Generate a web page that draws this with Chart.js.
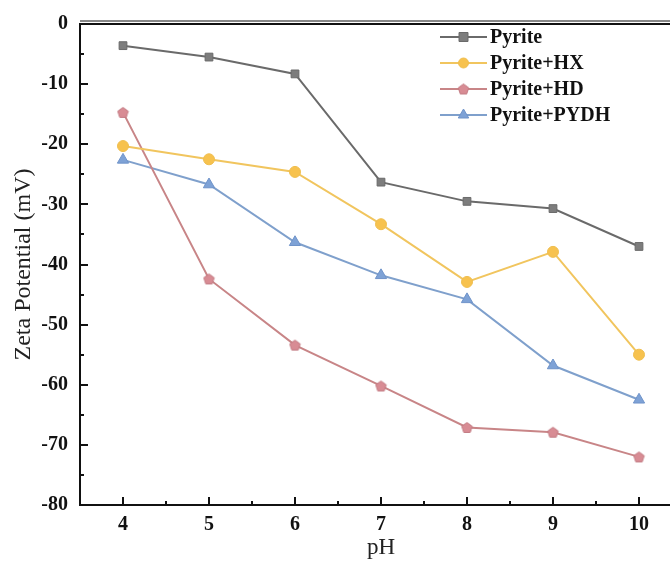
<!DOCTYPE html>
<html>
<head>
<meta charset="utf-8">
<script src="https://cdn.jsdelivr.net/npm/chart.js@4"></script>
<style>
html,body{margin:0;padding:0;background:#fff;overflow:hidden;}
#wrap{width:690px;height:562px;position:relative;}
</style>
</head>
<body>
<div id="wrap"><canvas id="c"></canvas></div>
<script>
// ---- data ----
const phValues = [4, 5, 6, 7, 8, 9, 10];
const seriesNames = ['Pyrite', 'Pyrite+HX', 'Pyrite+HD', 'Pyrite+PYDH'];
const pyrite   = [-3.6, -5.5, -8.3, -26.3, -29.5, -30.7, -37.0];
const pyriteHX = [-20.3, -22.5, -24.6, -33.3, -42.9, -37.9, -55.0];
const pyriteHD = [-14.7, -42.4, -53.4, -60.2, -67.1, -67.9, -72.0];
const pyritePYDH = [-22.6, -26.7, -36.3, -41.8, -45.8, -56.8, -62.5];
const xTicks = [4, 5, 6, 7, 8, 9, 10];
const yTicks = [0, -10, -20, -30, -40, -50, -60, -70, -80];

const SERIF = '"Liberation Serif", "Times New Roman", serif';

function pentagon(fill, stroke, size) {
  const c = document.createElement('canvas');
  c.width = size; c.height = size;
  const g = c.getContext('2d');
  const r = size / 2 - 1, cx = size / 2, cy = size / 2 + 0.5;
  g.beginPath();
  for (let i = 0; i < 5; i++) {
    const a = -Math.PI / 2 + i * 2 * Math.PI / 5;
    const px = cx + r * Math.cos(a), py = cy + r * Math.sin(a);
    if (i === 0) g.moveTo(px, py); else g.lineTo(px, py);
  }
  g.closePath();
  g.fillStyle = fill; g.fill();
  g.strokeStyle = stroke; g.lineWidth = 1; g.stroke();
  return c;
}
const pentImg = pentagon('#d88c94', '#c27a82', 13);

const pts = arr => phValues.map((x, i) => ({x: x, y: arr[i]}));

const datasets = [
  {label: seriesNames[0], data: pts(pyrite), borderColor: '#6a6a6a', backgroundColor: '#7d7d7d',
   pointStyle: 'rect', pointRadius: 5.5, pointBorderColor: '#6a6a6a', pointBorderWidth: 1},
  {label: seriesNames[1], data: pts(pyriteHX), borderColor: '#f1c55e', backgroundColor: '#f7c24e',
   pointStyle: 'circle', pointRadius: 5.5, pointBorderColor: '#efbe4f', pointBorderWidth: 1},
  {label: seriesNames[2], data: pts(pyriteHD), borderColor: '#c88587', backgroundColor: '#d88c94',
   pointStyle: pentImg, pointRadius: 6, pointBorderColor: '#c27a82', pointBorderWidth: 1},
  {label: seriesNames[3], data: pts(pyritePYDH), borderColor: '#7fa0cc', backgroundColor: '#7ea2d6',
   pointStyle: 'triangle', pointRadius: 6.5, pointBorderColor: '#6f93c9', pointBorderWidth: 1}
];
datasets.forEach(d => { d.borderWidth = 2; d.tension = 0; d.showLine = true; d.fill = false; });

const framePlugin = {
  id: 'frame',
  afterDraw(chart) {
    const {ctx, chartArea: a, scales} = chart;
    ctx.save();
    ctx.strokeStyle = '#111';
    ctx.lineWidth = 2;
    ctx.beginPath();
    ctx.moveTo(a.left, a.bottom); ctx.lineTo(a.left, a.top); ctx.lineTo(a.right, a.top);
    ctx.lineTo(a.right, a.bottom); ctx.closePath(); ctx.stroke();
    ctx.lineWidth = 1;
    ctx.beginPath(); ctx.moveTo(a.left, a.top - 3); ctx.lineTo(a.right, a.top - 3); ctx.stroke();
    // inward ticks
    ctx.lineWidth = 2;
    const xs = scales.x, ys = scales.y;
    xTicks.forEach(v => {
      const px = Math.round(xs.getPixelForValue(v));
      ctx.beginPath(); ctx.moveTo(px, a.bottom); ctx.lineTo(px, a.bottom - 8); ctx.stroke();
      const pm = Math.round(xs.getPixelForValue(v + 0.5));
      if (v + 0.5 < xs.max) { ctx.beginPath(); ctx.moveTo(pm, a.bottom); ctx.lineTo(pm, a.bottom - 4); ctx.stroke(); }
    });
    yTicks.forEach(v => {
      const py = Math.round(ys.getPixelForValue(v));
      ctx.beginPath(); ctx.moveTo(a.left, py); ctx.lineTo(a.left + 8, py); ctx.stroke();
      if (v - 5 > ys.min - 0.01) {
        const pm = Math.round(ys.getPixelForValue(v - 5));
        ctx.beginPath(); ctx.moveTo(a.left, pm); ctx.lineTo(a.left + 4, pm); ctx.stroke();
      }
    });
    // legend
    const lx0 = 440, lx1 = 487, tx = 490;
    const rows = [37, 63, 89, 115];
    chart.data.datasets.forEach((d, i) => {
      const y = rows[i];
      const cx = (lx0 + lx1) / 2;
      ctx.strokeStyle = d.borderColor; ctx.lineWidth = 2;
      ctx.beginPath(); ctx.moveTo(lx0, y); ctx.lineTo(lx1, y); ctx.stroke();
      ctx.fillStyle = d.backgroundColor; ctx.strokeStyle = d.pointBorderColor; ctx.lineWidth = 1;
      ctx.beginPath();
      if (d.pointStyle === 'rect') { const r = 4.5; ctx.rect(cx - r, y - r, 2*r, 2*r); }
      else if (d.pointStyle === 'circle') { ctx.arc(cx, y, 5, 0, Math.PI*2); }
      else if (d.pointStyle === 'triangle') { const r = 6;
        ctx.moveTo(cx, y - r); ctx.lineTo(cx + r*0.87, y + r*0.5); ctx.lineTo(cx - r*0.87, y + r*0.5); ctx.closePath(); }
      if (typeof d.pointStyle === 'string') { ctx.fill(); ctx.stroke(); }
      else { ctx.drawImage(d.pointStyle, cx - d.pointStyle.width/2, y - d.pointStyle.height/2); }
      ctx.fillStyle = '#111';
      ctx.font = 'bold 20px ' + SERIF;
      ctx.textBaseline = 'middle'; ctx.textAlign = 'left';
      ctx.fillText(d.label, tx, y + 1);
    });
    ctx.restore();
  }
};

new Chart(document.getElementById('c'), {
  type: 'line',
  data: {datasets: datasets},
  options: {
    responsive: true,
    maintainAspectRatio: false,
    animation: false,
    layout: {padding: {top: 21, right: 8, bottom: 0, left: 0}},
    plugins: {legend: {display: false}, tooltip: {enabled: false}},
    scales: {
      x: {
        type: 'linear', min: 3.5, max: 10.5,
        afterBuildTicks: s => { s.ticks = xTicks.map(v => ({value: v})); },
        afterFit: s => { s.height = 57; },
        grid: {display: false, drawTicks: false},
        border: {display: false},
        ticks: {color: '#111', font: {family: SERIF, size: 20, weight: 'bold'}, padding: 8,
                autoSkip: false, maxRotation: 0, callback: v => String(v)},
        title: {display: true, text: 'pH', color: '#222', font: {family: SERIF, size: 23}, padding: {top: 0, bottom: 0}}
      },
      y: {
        min: -80, max: 0,
        afterBuildTicks: s => { s.ticks = yTicks.map(v => ({value: v})); },
        afterFit: s => { s.width = 80; },
        grid: {display: false, drawTicks: false},
        border: {display: false},
        ticks: {color: '#111', font: {family: SERIF, size: 20, weight: 'bold'}, padding: 12,
                callback: v => String(v)},
        title: {display: true, text: 'Zeta Potential (mV)', color: '#222', font: {family: SERIF, size: 24}, padding: {top: 9, bottom: 0}}
      }
    }
  },
  plugins: [framePlugin]
});
</script>
</body>
</html>
